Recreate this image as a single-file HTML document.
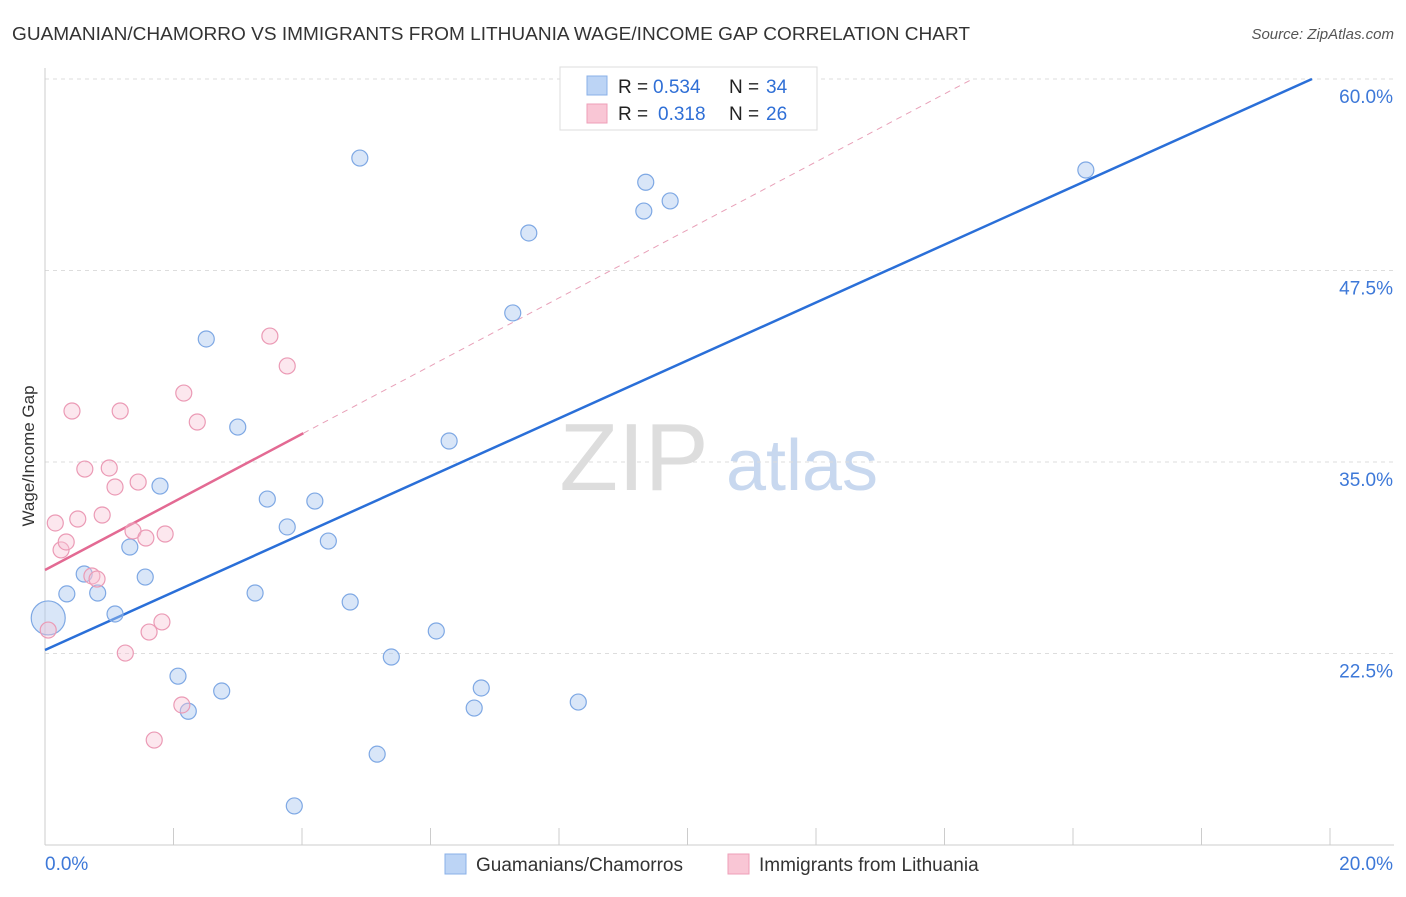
<!DOCTYPE html>
<html><head><meta charset="utf-8"><style>
body{margin:0;background:#fff;font-family:"Liberation Sans",sans-serif;}
svg text{font-family:"Liberation Sans",sans-serif;}
</style></head><body>
<svg id="c" width="1406" height="892" xmlns="http://www.w3.org/2000/svg">
<text x="12" y="40" font-size="18" fill="#333" textLength="958" lengthAdjust="spacingAndGlyphs">GUAMANIAN/CHAMORRO VS IMMIGRANTS FROM LITHUANIA WAGE/INCOME GAP CORRELATION CHART</text>
<text x="1394" y="39" font-size="15" fill="#555" font-style="italic" text-anchor="end">Source: ZipAtlas.com</text>
<text x="34" y="456" font-size="17" fill="#333" text-anchor="middle" transform="rotate(-90 34 456)">Wage/Income Gap</text>
<g><text x="634" y="490" font-size="96" fill="#ddd" font-family="Liberation Serif,serif" text-anchor="middle">ZIP</text><text x="802" y="490" font-size="72" fill="#c8d8ef" text-anchor="middle">atlas</text></g>
<g id="grid"></g><g id="axes"></g><g id="lines"></g><g id="pts"></g>
<g>
<rect x="560" y="67" width="257" height="63" fill="#fff" stroke="#ddd"/>
<rect x="587" y="76" width="20" height="19" fill="#bcd4f5" stroke="#8ab0e8"/>
<rect x="587" y="104" width="20" height="19" fill="#f9c6d5" stroke="#ee9fb8"/>
<text x="618" y="93" font-size="19" fill="#222">R =</text>
<text x="653" y="93" font-size="19" fill="#2f6fd6">0.534</text>
<text x="729" y="93" font-size="19" fill="#222">N =</text>
<text x="766" y="93" font-size="19" fill="#2f6fd6">34</text>
<text x="618" y="120" font-size="19" fill="#222">R =</text>
<text x="658" y="120" font-size="19" fill="#2f6fd6">0.318</text>
<text x="729" y="120" font-size="19" fill="#222">N =</text>
<text x="766" y="120" font-size="19" fill="#2f6fd6">26</text>
</g>
<g>
<rect x="445" y="854" width="21" height="20" fill="#bcd4f5" stroke="#8ab0e8"/>
<text x="476" y="871" font-size="19" fill="#333">Guamanians/Chamorros</text>
<rect x="728" y="854" width="21" height="20" fill="#f9c6d5" stroke="#ee9fb8"/>
<text x="759" y="871" font-size="19" fill="#333">Immigrants from Lithuania</text>
</g>
<text x="45" y="870" font-size="19" fill="#3d78d8">0.0%</text>
<text x="1393" y="870" font-size="19" fill="#3d78d8" text-anchor="end">20.0%</text>
</svg>
<script>
const yTicks=[60,47.5,35,22.5];
const yTickLabels=["60.0%","47.5%","35.0%","22.5%"];
const blueX=[0.05,0.34,0.61,0.82,1.09,1.32,1.56,1.79,2.07,2.23,2.51,2.75,3.00,3.27,3.46,3.77,3.88,4.20,4.41,4.75,4.90,5.17,5.39,6.09,6.29,6.68,6.79,7.28,7.53,8.30,9.32,9.35,9.73,16.2];
const blueY=[24.82,26.39,27.69,26.45,25.08,29.45,27.49,33.43,21.02,18.73,43.03,20.05,37.28,26.45,32.58,30.76,12.55,32.45,29.84,25.86,54.84,15.93,22.27,23.97,36.37,18.94,20.25,44.73,49.95,19.33,51.38,53.26,52.04,54.06];
const pinkX=[0.05,0.16,0.25,0.33,0.42,0.51,0.62,0.73,0.81,0.89,1.00,1.09,1.17,1.25,1.37,1.45,1.57,1.62,1.70,1.82,1.87,2.13,2.16,2.37,3.50,3.77];
const pinkY=[24.03,31.02,29.26,29.78,38.33,31.28,34.54,27.56,27.36,31.54,34.61,33.37,38.33,22.53,30.50,33.69,30.04,23.90,16.85,24.56,30.30,19.14,39.50,37.61,43.22,41.27];
const blueTrend=[22.73,1.89];
const pinkTrend=[27.95,2.22];
const NS='http://www.w3.org/2000/svg';
const X=v=>45+v*64.25, Y=v=>79+(60-v)*15.32;
function mk(p,t,a){const e=document.createElementNS(NS,t);for(const k in a)e.setAttribute(k,a[k]);document.getElementById(p).appendChild(e);return e;}
yTicks.forEach((t,i)=>{
 const l=mk('grid','line',{x1:45,x2:1394,y1:Y(t),y2:Y(t),stroke:'#ddd','stroke-dasharray':'4,4'});
 
 
 const tx=mk('grid','text',{x:1393,y:Y(t)+24,'font-size':19,fill:'#3d78d8','text-anchor':'end'});
 tx.textContent=yTickLabels[i];
 
 
});
let a=mk('axes','line',{x1:45,x2:45,y1:68,y2:845,stroke:'#ccc'});


a=mk('axes','line',{x1:45,x2:1394,y1:845,y2:845,stroke:'#ccc'});


for(let i=0;i<=10;i++){const t=mk('axes','line',{x1:X(i*2),x2:X(i*2),y1:828,y2:845,stroke:'#ccc'});
 
 }
let ln=mk('lines','line',{x1:X(0),y1:Y(blueTrend[0]),x2:X((60-blueTrend[0])/blueTrend[1]),y2:Y(60),stroke:'#2a6fd8','stroke-width':2.5});


ln=mk('lines','line',{x1:X(4.02),y1:Y(pinkTrend[0]+pinkTrend[1]*4.02),x2:X((60-pinkTrend[0])/pinkTrend[1]),y2:Y(60),stroke:'#e8a0b8','stroke-width':1,'stroke-dasharray':'6,5'});


ln=mk('lines','line',{x1:X(0),y1:Y(pinkTrend[0]),x2:X(4.02),y2:Y(pinkTrend[0]+pinkTrend[1]*4.02),stroke:'#e36a93','stroke-width':2.5});


blueX.forEach((x,i)=>{const c=mk('pts','circle',{cx:X(x),cy:Y(blueY[i]),r:i==0?17:8,fill:'rgba(170,200,240,0.45)',stroke:'#7ea8e4','stroke-width':1.2});
 
 });
pinkX.forEach((x,i)=>{const c=mk('pts','circle',{cx:X(x),cy:Y(pinkY[i]),r:8,fill:'rgba(248,195,212,0.4)',stroke:'#eb9ab5','stroke-width':1.2});
 
 });
</script>
</body></html>
